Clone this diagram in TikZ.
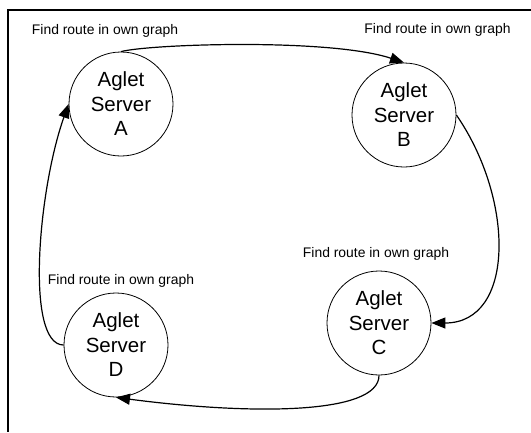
\documentclass[tikz,border=0pt]{standalone}
\usepackage{fontspec}
\setmainfont{Liberation Sans}
\usetikzlibrary{arrows.meta}

\begin{document}
\begin{tikzpicture}[x=1pt, y=-1pt,
  server/.style={circle, draw, line width=0.8pt, minimum size=104pt, inner sep=0pt,
    align=center, font=\fontsize{20.5}{24.5}\selectfont},
  note/.style={anchor=base, inner sep=0pt, font=\fontsize{13.9}{16}\selectfont},
  flow/.style={line width=1.2pt, -{Triangle[length=14pt, width=11pt]}}]

  \useasboundingbox (0,0) rectangle (531,432);

  % open frame: top and left edges
  \draw[line width=2pt] (531,9.5) -- (8,9.5) -- (8,432);

  % servers
  \node[server] (A) at (121,104) {Aglet\\Server\\A};
  \node[server] (B) at (404,115) {Aglet\\Server\\B};
  \node[server] (C) at (379,323) {Aglet\\Server\\C};
  \node[server] (D) at (116,345) {Aglet\\Server\\D};

  % annotations
  \node[note] (nA) at (105,34)  {Find route in own graph};
  \node[note] (nB) at (437.5,33.5) {Find route in own graph};
  \node[note] (nC) at (376,257) {Find route in own graph};
  \node[note] (nD) at (121,284) {Find route in own graph};

  % ring of migrations
  \draw[flow] (A.north) .. controls (150,44) and (330,38) .. (B.north);
  \draw[flow] (B.east) .. controls (515,200) and (515,323) .. (C.east);
  \draw[flow] (C.south) .. controls (379,415) and (250,415) .. (D.south);
  \draw[flow] (D.west) .. controls (25,345) and (38,190) .. (A.west);
\end{tikzpicture}
\end{document}
